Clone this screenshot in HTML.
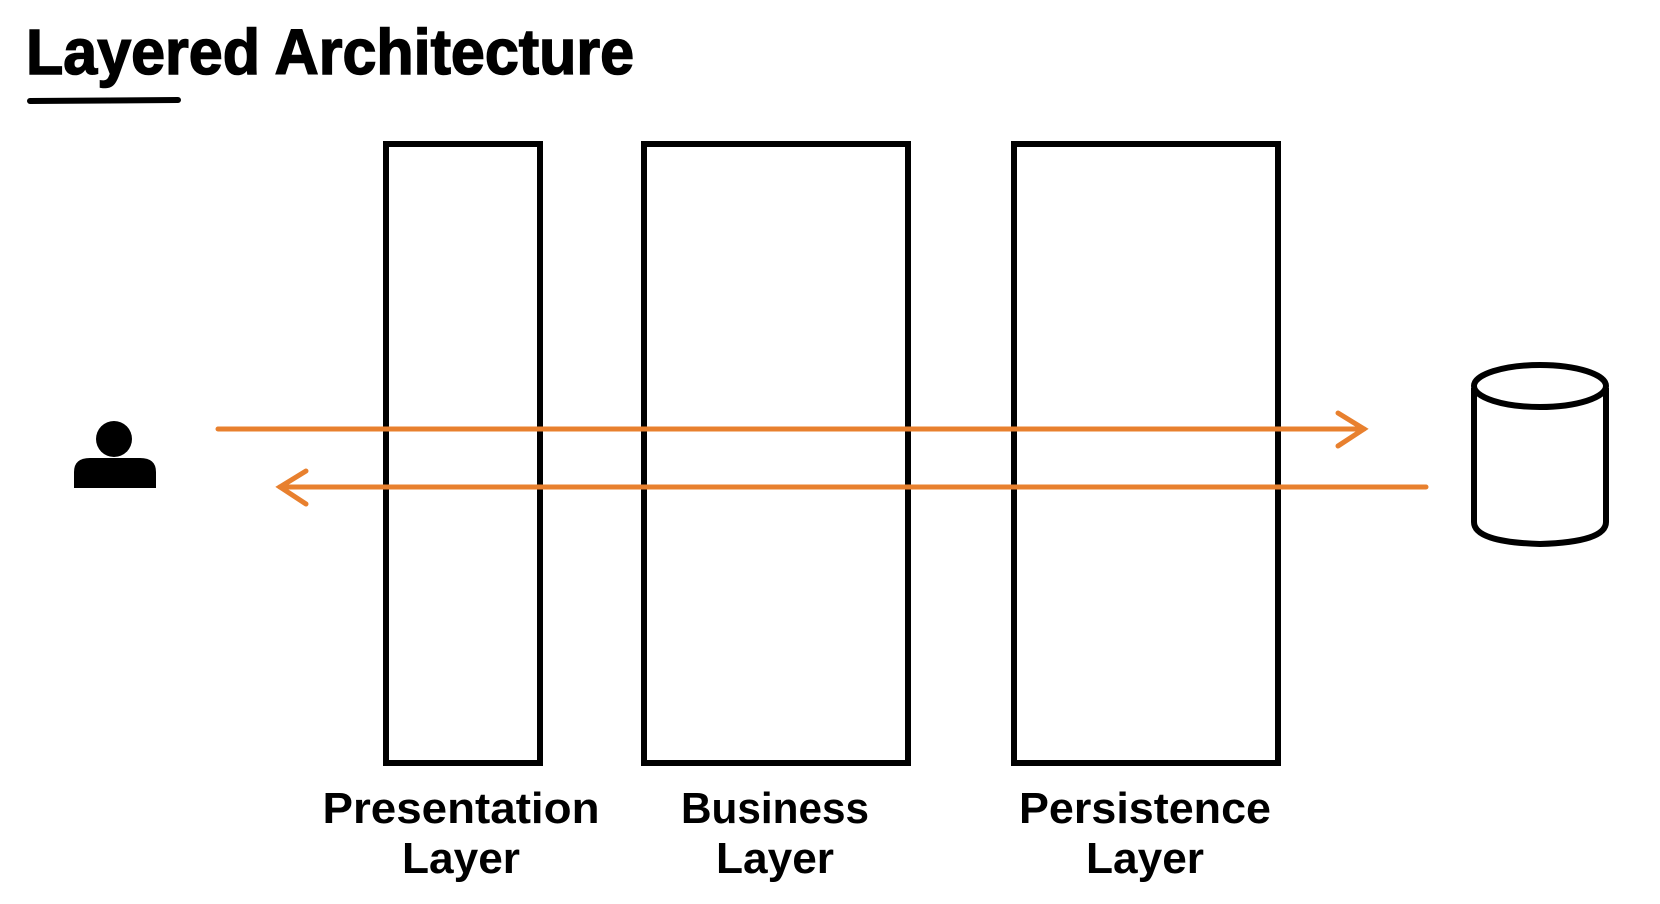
<!DOCTYPE html>
<html><head><meta charset="utf-8"><style>
html,body{margin:0;padding:0;background:#fff;}
svg{display:block;}
text{font-family:"Liberation Sans",sans-serif;font-weight:bold;fill:#000;}
</style></head><body>
<svg width="1660" height="904" viewBox="0 0 1660 904" xmlns="http://www.w3.org/2000/svg">
<text x="26" y="74" font-size="64" textLength="608" lengthAdjust="spacingAndGlyphs" stroke="#000" stroke-width="1.5">Layered Architecture</text>
<path d="M30 101 L178 100" stroke="#000" stroke-width="6" stroke-linecap="round"/>
<g fill="none" stroke="#000" stroke-width="6">
<rect x="386" y="144" width="154" height="619"/>
<rect x="644" y="144" width="264" height="619"/>
<rect x="1014" y="144" width="264" height="619"/>
</g>
<g fill="none" stroke="#e8802e" stroke-width="5" stroke-linecap="round">
<path d="M218 429 L1364 429"/>
<path d="M1338 413 L1364 429 L1338 446"/>
<path d="M1426 487 L280 487"/>
<path d="M306 471 L280 487 L306 504"/>
</g>
<circle cx="114" cy="439" r="18" fill="#000"/>
<path d="M74 488 L74 472 Q74 458 90 458 L140 458 Q156 458 156 472 L156 488 Z" fill="#000"/>
<g fill="none" stroke="#000" stroke-width="6">
<ellipse cx="1540" cy="386" rx="66" ry="21"/>
<path d="M1474 388 L1474 522 Q1474 542 1540 544 Q1606 542 1606 522 L1606 388"/>
</g>
<g font-size="44" text-anchor="middle">
<text x="461" y="823" textLength="277" lengthAdjust="spacingAndGlyphs">Presentation</text>
<text x="461" y="873" textLength="118" lengthAdjust="spacingAndGlyphs">Layer</text>
<text x="775" y="823" textLength="188" lengthAdjust="spacingAndGlyphs">Business</text>
<text x="775" y="873" textLength="118" lengthAdjust="spacingAndGlyphs">Layer</text>
<text x="1145" y="823" textLength="252" lengthAdjust="spacingAndGlyphs">Persistence</text>
<text x="1145" y="873" textLength="118" lengthAdjust="spacingAndGlyphs">Layer</text>
</g>
</svg>
</body></html>
